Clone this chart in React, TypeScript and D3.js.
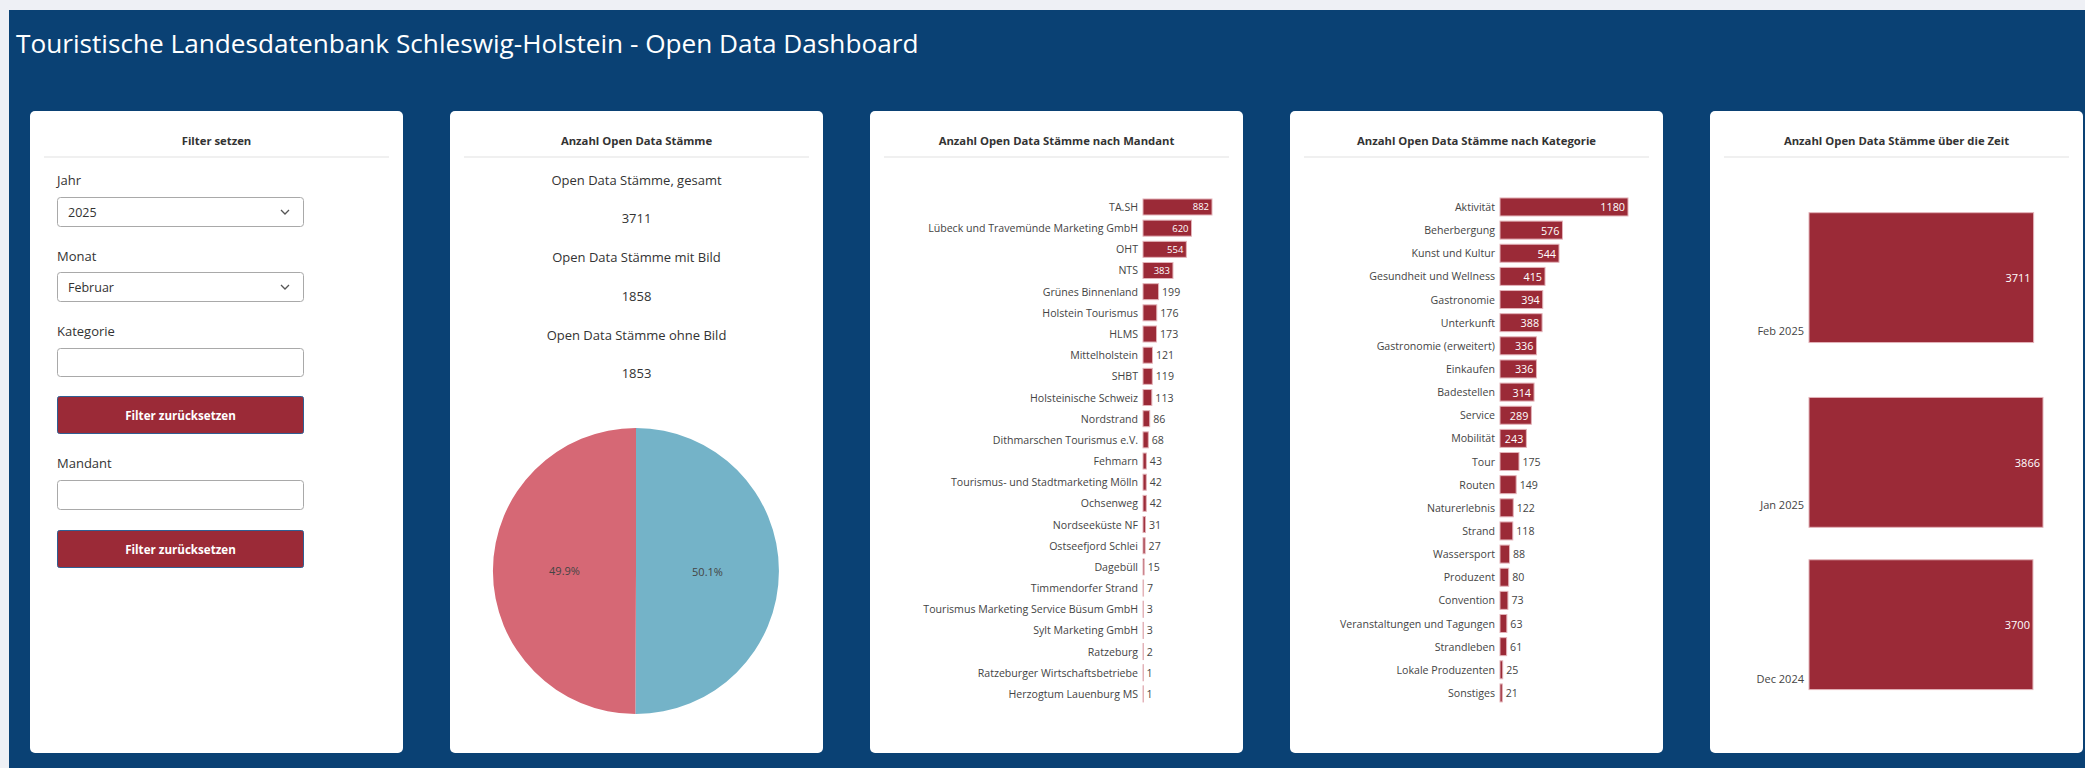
import React from "react";
import * as d3 from "d3";

// ---------- DATA ----------
const dashboardTitle = "Touristische Landesdatenbank Schleswig-Holstein - Open Data Dashboard";
const cardTitles = [
  "Filter setzen",
  "Anzahl Open Data Stämme",
  "Anzahl Open Data Stämme nach Mandant",
  "Anzahl Open Data Stämme nach Kategorie",
  "Anzahl Open Data Stämme über die Zeit",
];

const filterLabels = ["Jahr", "Monat", "Kategorie", "Mandant"];
const filterValues = ["2025", "Februar", "", ""];
const resetLabel = "Filter zurücksetzen";

const statLabels = ["Open Data Stämme, gesamt", "Open Data Stämme mit Bild", "Open Data Stämme ohne Bild"];
const statValues = [3711, 1858, 1853];

const pieNames = ["mit Bild", "ohne Bild"];
const pieValues = [1858, 1853];
const pieColors = ["#74b3c8", "#d66875"];

const mandantNames = [
  "TA.SH", "Lübeck und Travemünde Marketing GmbH", "OHT", "NTS", "Grünes Binnenland",
  "Holstein Tourismus", "HLMS", "Mittelholstein", "SHBT", "Holsteinische Schweiz",
  "Nordstrand", "Dithmarschen Tourismus e.V.", "Fehmarn", "Tourismus- und Stadtmarketing Mölln",
  "Ochsenweg", "Nordseeküste NF", "Ostseefjord Schlei", "Dagebüll", "Timmendorfer Strand",
  "Tourismus Marketing Service Büsum GmbH", "Sylt Marketing GmbH", "Ratzeburg",
  "Ratzeburger Wirtschaftsbetriebe", "Herzogtum Lauenburg MS",
];
const mandantValues = [882, 620, 554, 383, 199, 176, 173, 121, 119, 113, 86, 68, 43, 42, 42, 31, 27, 15, 7, 3, 3, 2, 1, 1];

const kategorieNames = [
  "Aktivität", "Beherbergung", "Kunst und Kultur", "Gesundheit und Wellness", "Gastronomie",
  "Unterkunft", "Gastronomie (erweitert)", "Einkaufen", "Badestellen", "Service", "Mobilität",
  "Tour", "Routen", "Naturerlebnis", "Strand", "Wassersport", "Produzent", "Convention",
  "Veranstaltungen und Tagungen", "Strandleben", "Lokale Produzenten", "Sonstiges",
];
const kategorieValues = [1180, 576, 544, 415, 394, 388, 336, 336, 314, 289, 243, 175, 149, 122, 118, 88, 80, 73, 63, 61, 25, 21];

const timeDates = ["2025-02-10T08:00", "2025-01-08T10:00", "2024-12-10T12:00"];
const timeValues = [3711, 3866, 3700];
const timeTicks = ["2024-12-01", "2025-01-01", "2025-02-01"];

// ---------- STYLE ----------
const W = 2085;
const H = 768;
const FONT = "'Open Sans', sans-serif";
const BLUE = "#0a4174";
const RED = "#9b2a37";
const BAR_EDGE = "#e3b3b9";
const CARD_Y = 111;
const CARD_W = 373;
const CARD_H = 642;
const AXIS_FS = 10.6;
const cardX = (i: number) => 30 + i * 420;

function Card({ i, title }: { i: number; title: string }) {
  const x = cardX(i);
  return (
    <g>
      <rect x={x} y={CARD_Y} width={CARD_W} height={CARD_H} rx={5} fill="#ffffff" />
      <text x={x + CARD_W / 2} y={140} textAnchor="middle" dominantBaseline="central"
        fontFamily={FONT} fontWeight={700} fontSize={11.3} fill="#333">{title}</text>
      <line x1={x + 14} x2={x + CARD_W - 14} y1={157} y2={157} stroke="#f0f0f0" strokeWidth={2} />
    </g>
  );
}

function approxWidth(s: string, fs: number) {
  return s.length * fs * 0.58;
}

function HBarChart({ names, values, x0, unitMax, pxMax, top, bottom, pad, insideFs }: any) {
  const y = d3.scaleBand<string>().domain(names).range([top, bottom]).paddingInner(pad).paddingOuter(pad / 2);
  const x = d3.scaleLinear().domain([0, unitMax]).range([x0, x0 + pxMax]);
  return (
    <g>
      {names.map((n: string, k: number) => {
        const v = values[k];
        const yy = y(n)!;
        const bw = y.bandwidth();
        const w = x(v) - x(0);
        const label = String(v);
        const inside = w > approxWidth(label, insideFs) + 6;
        const cy = yy + bw / 2;
        return (
          <g key={n}>
            <text x={x0 - 5} y={cy} textAnchor="end" dominantBaseline="central"
              fontFamily={FONT} fontSize={AXIS_FS} fill="#444">{n}</text>
            <rect x={x(0)} y={yy} width={Math.max(w, 0.5)} height={bw} fill={RED}
              stroke={BAR_EDGE} strokeWidth={1} />
            {inside ? (
              <text x={x(v) - 3} y={cy} textAnchor="end" dominantBaseline="central"
                fontFamily={FONT} fontSize={insideFs} fill="#ffffff">{label}</text>
            ) : (
              <text x={x(v) + 3.5} y={cy} textAnchor="start" dominantBaseline="central"
                fontFamily={FONT} fontSize={AXIS_FS} fill="#444">{label}</text>
            )}
          </g>
        );
      })}
    </g>
  );
}

function Chevron({ x, y }: { x: number; y: number }) {
  return <path d={`M${x - 4},${y - 2} L${x},${y + 2} L${x + 4},${y - 2}`} fill="none" stroke="#555" strokeWidth={1.3} />;
}

function FilterCard() {
  const x = cardX(0);
  const lx = x + 27;
  const bw = 246;
  const labelY = [180, 256, 331, 463];
  const boxTop = [197, 272, 348, 480];
  const boxH = [29, 29, 28, 29];
  const btnTop = [396, 530];
  return (
    <g>
      {filterLabels.map((l, k) => (
        <g key={l}>
          <text x={lx} y={labelY[k]} dominantBaseline="central" fontFamily={FONT} fontSize={13} fill="#333">{l}</text>
          <rect x={lx + 0.5} y={boxTop[k] + 0.5} width={bw} height={boxH[k]} rx={3} fill="#fff" stroke="#a9a9a9" strokeWidth={1} />
          {filterValues[k] !== "" && (
            <text x={lx + 11} y={boxTop[k] + boxH[k] / 2 + 0.5} dominantBaseline="central" fontFamily={FONT} fontSize={12.5} fill="#333">{filterValues[k]}</text>
          )}
          {k < 2 && <Chevron x={lx + 228} y={boxTop[k] + boxH[k] / 2 + 0.5} />}
        </g>
      ))}
      {btnTop.map((t) => (
        <g key={t}>
          <rect x={lx + 0.5} y={t + 0.5} width={bw} height={37} rx={2} fill={RED} stroke="#2f5f93" strokeWidth={1} />
          <text x={lx + 0.5 + bw / 2} y={t + 19} textAnchor="middle" dominantBaseline="central"
            fontFamily={FONT} fontWeight={700} fontSize={11.6} fill="#ffffff">{resetLabel}</text>
        </g>
      ))}
    </g>
  );
}

function StatsCard() {
  const cx = cardX(1) + CARD_W / 2;
  const ys = [180, 218, 257, 296, 335, 373];
  const pcy = 571;
  const r = 143;
  const pie = d3.pie<number>().sort(null).value((d) => d).startAngle(0).endAngle(2 * Math.PI);
  const arcs = pie(pieValues);
  const arc = d3.arc<d3.PieArcDatum<number>>().innerRadius(0).outerRadius(r);
  const total = d3.sum(pieValues);
  return (
    <g>
      {statLabels.map((l, k) => (
        <g key={l}>
          <text x={cx} y={ys[2 * k]} textAnchor="middle" dominantBaseline="central" fontFamily={FONT} fontSize={13} fill="#333">{l}</text>
          <text x={cx} y={ys[2 * k + 1]} textAnchor="middle" dominantBaseline="central" fontFamily={FONT} fontSize={13} fill="#333">{statValues[k]}</text>
        </g>
      ))}
      <g transform={`translate(${cx - 0.5},${pcy})`}>
        {arcs.map((a, k) => (
          <path key={pieNames[k]} d={arc(a) || ""} fill={pieColors[k]} />
        ))}
        {arcs.map((a, k) => {
          const [lx, ly] = arc.centroid(a);
          return (
            <text key={"t" + k} x={lx} y={ly} textAnchor="middle" dominantBaseline="central"
              fontFamily={FONT} fontSize={11} fill="#444">{((a.data / total) * 100).toFixed(1) + "%"}</text>
          );
        })}
      </g>
    </g>
  );
}

function TimeChart() {
  const parse = d3.timeParse("%Y-%m-%dT%H:%M");
  const parseDay = d3.timeParse("%Y-%m-%d");
  const dates = timeDates.map((d) => parse(d)!);
  const ticks = timeTicks.map((d) => parseDay(d)!);
  const y = d3.scaleTime().domain([ticks[0], ticks[2]]).range([678, 330]);
  const x0 = 1809;
  const x = d3.scaleLinear().domain([0, 3866]).range([x0, x0 + 234]);
  const dayPx = y(ticks[0]) - y(d3.timeDay.offset(ticks[0], 1));
  const spacing = d3.min(dates.slice(1).map((d, k) => Math.abs(+dates[k] - +d) / 86400000))!;
  const bh = spacing * 0.8 * dayPx;
  const fmt = d3.timeFormat("%b %Y");
  return (
    <g>
      {dates.map((d, k) => {
        const cy = y(d);
        return (
          <g key={k}>
            <rect x={x(0)} y={cy - bh / 2} width={x(timeValues[k]) - x(0)} height={bh} fill={RED} stroke={BAR_EDGE} strokeWidth={1} />
            <text x={x(timeValues[k]) - 3} y={cy} textAnchor="end" dominantBaseline="central"
              fontFamily={FONT} fontSize={11} fill="#fff">{timeValues[k]}</text>
          </g>
        );
      })}
      {ticks.map((t, k) => (
        <text key={k} x={x0 - 5} y={y(t)} textAnchor="end" dominantBaseline="central"
          fontFamily={FONT} fontSize={11} fill="#444">{fmt(t)}</text>
      ))}
    </g>
  );
}

export default function App() {
  return (
    <div style={{ position: "fixed", left: 0, top: 0, width: W, height: H, background: "#eef0f5", overflow: "hidden" }}>
      <svg width={W} height={H} style={{ display: "block" }}>
        <rect x={0} y={0} width={W} height={H} fill="#eef0f5" />
        <rect x={9} y={10} width={W - 9} height={H - 10} fill={BLUE} />
        <text x={16} y={53} fontFamily={FONT} fontSize={26.2} fill="#ffffff">{dashboardTitle}</text>
        {cardTitles.map((t, i) => <Card key={i} i={i} title={t} />)}
        <FilterCard />
        <StatsCard />
        <HBarChart names={mandantNames} values={mandantValues} x0={1143} unitMax={882} pxMax={69}
          top={196.4} bottom={704.5} pad={0.244} insideFs={9.5} />
        <HBarChart names={kategorieNames} values={kategorieValues} x0={1500} unitMax={1180} pxMax={128}
          top={195.4} bottom={704.5} pad={0.222} insideFs={10.8} />
        <TimeChart />
      </svg>
    </div>
  );
}
